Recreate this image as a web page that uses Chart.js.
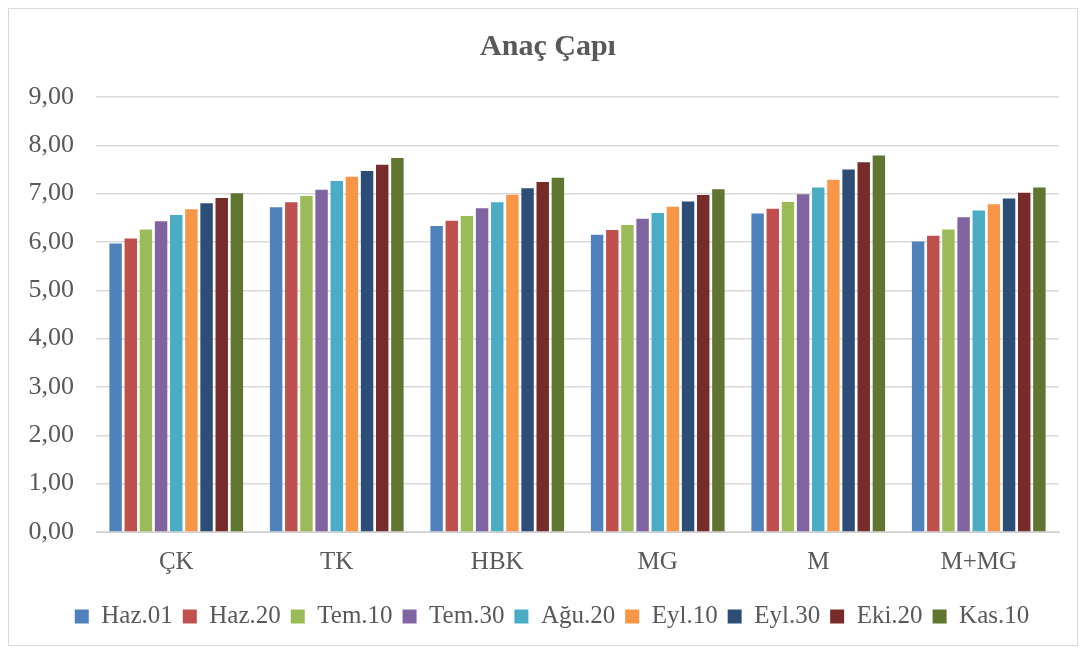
<!DOCTYPE html>
<html>
<head>
<meta charset="utf-8">
<script src="https://cdn.jsdelivr.net/npm/chart.js@4.4.0/dist/chart.umd.min.js"></script>
<style>
    html, body { margin: 0; padding: 0; background: #fff; }
    #box { position: absolute; left: 8px; top: 8px; width: 1068px; height: 636px; border: 1px solid #d9d9d9; }
    canvas { display: block; }
</style>
</head>
<body>
<div id="box"><canvas id="chart" width="1068" height="636"></canvas></div>
<script>
const categories = ['ÇK', 'TK', 'HBK', 'MG', 'M', 'M+MG'];
const seriesNames = ['Haz.01', 'Haz.20', 'Tem.10', 'Tem.30', 'Ağu.20', 'Eyl.10', 'Eyl.30', 'Eki.20', 'Kas.10'];
const seriesColors = ['#4F81BD', '#C0504D', '#9BBB59', '#8064A2', '#4BACC6', '#F79646', '#2C4D75', '#772C2A', '#5F7530'];

// one array per date, values for ÇK, TK, HBK, MG, M, M+MG
const haz01 = [5.97, 6.72, 6.33, 6.15, 6.59, 6.01];
const haz20 = [6.07, 6.82, 6.44, 6.25, 6.69, 6.13];
const tem10 = [6.26, 6.95, 6.54, 6.35, 6.83, 6.26];
const tem30 = [6.43, 7.08, 6.70, 6.48, 6.99, 6.51];
const agu20 = [6.56, 7.26, 6.82, 6.60, 7.13, 6.65];
const eyl10 = [6.68, 7.35, 6.98, 6.73, 7.29, 6.78];
const eyl30 = [6.80, 7.47, 7.11, 6.84, 7.50, 6.90];
const eki20 = [6.91, 7.60, 7.24, 6.97, 7.65, 7.02];
const kas10 = [7.01, 7.74, 7.33, 7.09, 7.79, 7.13];
const allSeries = [haz01, haz20, tem10, tem30, agu20, eyl10, eyl30, eki20, kas10];

const yTicks = [0, 1, 2, 3, 4, 5, 6, 7, 8, 9];

const textColor = '#595959';
const serif = "'Liberation Serif', 'Times New Roman', serif";

// nudge title and legend to the right, like the Excel layout
const shiftBoxes = {
    id: 'shiftBoxes',
    afterLayout(chart) {
        chart.titleBlock.left += 14;
        chart.titleBlock.right += 14;
        chart.legend.left += 18;
        chart.legend.right += 18;
    }
};

const ctx = document.getElementById('chart').getContext('2d');
new Chart(ctx, {
    type: 'bar',
    data: {
        labels: categories,
        datasets: seriesNames.map((name, i) => ({
            label: name,
            data: allSeries[i],
            backgroundColor: seriesColors[i],
            barPercentage: 0.82,
            categoryPercentage: 0.85
        }))
    },
    plugins: [shiftBoxes],
    options: {
        responsive: false,
        animation: false,
        layout: { padding: { left: 0, right: 18, top: 0, bottom: 6 } },
        plugins: {
            title: {
                display: true,
                text: 'Anaç Çapı',
                color: textColor,
                font: { family: serif, size: 30, weight: 'bold' },
                padding: { top: 20, bottom: 32 }
            },
            legend: {
                position: 'bottom',
                labels: {
                    color: textColor,
                    font: { family: serif, size: 25 },
                    boxWidth: 14,
                    boxHeight: 14,
                    padding: 10
                }
            },
            tooltip: { enabled: false }
        },
        scales: {
            x: {
                grid: { display: false, drawTicks: false },
                border: { color: '#d0d0d0', width: 1 },
                ticks: {
                    color: textColor,
                    font: { family: serif, size: 25 },
                    padding: 15
                },
                afterFit: function (scale) { scale.height = 62; }
            },
            y: {
                min: 0,
                max: 9,
                afterBuildTicks: function (scale) {
                    scale.ticks = yTicks.map(v => ({ value: v }));
                },
                grid: { color: '#d9d9d9', lineWidth: 1.5, drawTicks: false },
                border: { display: false },
                ticks: {
                    color: textColor,
                    font: { family: serif, size: 26 },
                    padding: 22,
                    callback: function (value) { return value.toFixed(2).replace('.', ','); }
                },
                afterFit: function (scale) { scale.width = 87; }
            }
        }
    }
});
</script>
</body>
</html>
